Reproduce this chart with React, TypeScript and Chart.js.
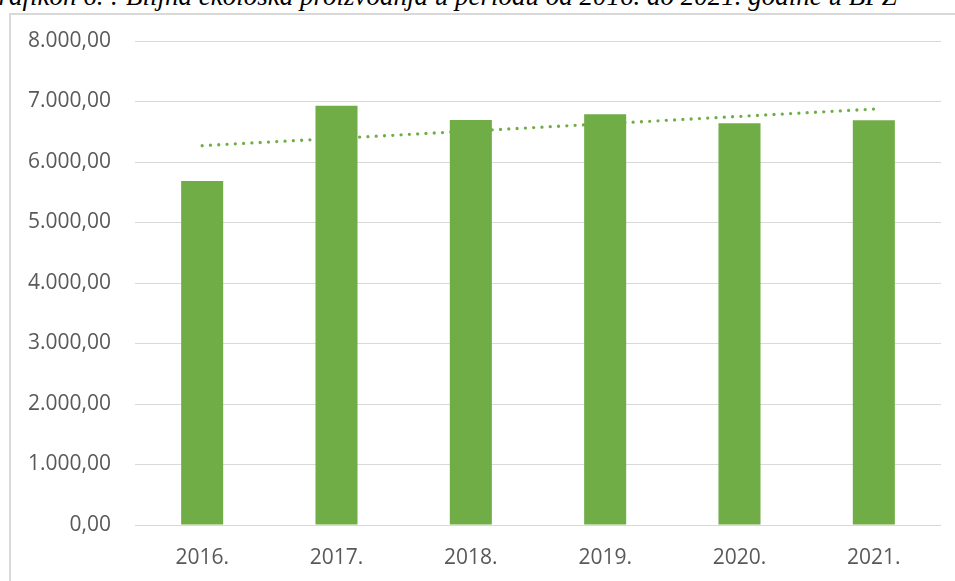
import React, { useEffect, useRef } from "react";
import { Chart, registerables } from "chart.js";

Chart.register(...registerables);

const titleText =
  "Grafikon 6. : Biljna ekološka proizvodnja u periodu od 2016. do 2021. godine u BPZ";
const categories = ["2016.", "2017.", "2018.", "2019.", "2020.", "2021."];
const production = [5686, 6931, 6694, 6788, 6640, 6689];
// Linear trendline endpoints (straight line between them)
const trendValues: (number | null)[] = [6270, null, null, null, null, 6875];
const yMin = 0;
const yMax = 8000;
const yStep = 1000;

function formatNumber(v: number): string {
  const fixed = v.toFixed(2);
  const [int, dec] = fixed.split(".");
  const withDots = int.replace(/\B(?=(\d{3})+(?!\d))/g, ".");
  return withDots + "," + dec;
}

const GREEN = "#70ad47";
const TEXT = "#595959";
const GRID = "#d9d9d9";
const FONT = "'Open Sans', sans-serif";

export default function App() {
  const canvasRef = useRef<HTMLCanvasElement | null>(null);

  useEffect(() => {
    if (!canvasRef.current) return;
    const chart = new Chart(canvasRef.current, {
      type: "bar",
      data: {
        labels: categories,
        datasets: [
          {
            type: "bar",
            label: "Proizvodnja",
            data: production,
            backgroundColor: GREEN,
            borderWidth: 0,
            categoryPercentage: 1,
            barPercentage: 0.313,
            order: 1,
          } as any,
          {
            type: "line",
            label: "Trend",
            data: trendValues,
            borderColor: GREEN,
            borderWidth: 3.3,
            borderDash: [0, 8.3],
            borderCapStyle: "round",
            pointRadius: 0,
            spanGaps: true,
            tension: 0,
            fill: false,
            order: 2,
          } as any,
        ],
      },
      options: {
        animation: false,
        responsive: true,
        maintainAspectRatio: false,
        layout: { padding: { top: 27, right: 14, left: 0, bottom: 0 } },
        plugins: {
          legend: { display: false },
          tooltip: { enabled: false },
          title: { display: false },
        },
        scales: {
          x: {
            grid: { display: false, drawTicks: false },
            border: { display: false },
            ticks: {
              color: TEXT,
              font: { family: FONT, size: 21 },
              padding: 20,
              maxRotation: 0,
            },
            afterFit: (scale: any) => {
              scale.height = 56;
              scale.paddingLeft = 0;
              scale.paddingRight = 0;
            },
          },
          y: {
            min: yMin,
            max: yMax,
            grid: { color: GRID, lineWidth: 1, drawTicks: false },
            border: { display: false },
            ticks: {
              stepSize: yStep,
              color: TEXT,
              font: { family: FONT, size: 21 },
              padding: 24,
              callback: (v: any) => formatNumber(Number(v)),
            },
            afterFit: (scale: any) => {
              scale.width = 125;
              scale.paddingTop = 0;
              scale.paddingBottom = 0;
            },
          },
        },
      } as any,
    });
    return () => chart.destroy();
  }, []);

  return (
    <div
      style={{
        position: "fixed",
        left: 0,
        top: 0,
        width: 955,
        height: 581,
        overflow: "hidden",
        background: "#ffffff",
      }}
    >
      <div
        style={{
          position: "absolute",
          left: 9,
          top: 13,
          width: 960,
          height: 600,
          border: `2px solid ${GRID}`,
          boxSizing: "border-box",
        }}
      />
      <div
        style={{
          position: "absolute",
          left: -21,
          top: -17,
          whiteSpace: "nowrap",
          fontFamily: "'Liberation Serif', 'Times New Roman', serif",
          fontStyle: "italic",
          fontSize: 27,
          lineHeight: "27px",
          color: "#000",
        }}
      >
        {titleText}
      </div>
      <div
        style={{
          position: "absolute",
          left: 10,
          top: 14,
          width: 945,
          height: 567,
        }}
      >
        <canvas ref={canvasRef} />
      </div>
    </div>
  );
}
